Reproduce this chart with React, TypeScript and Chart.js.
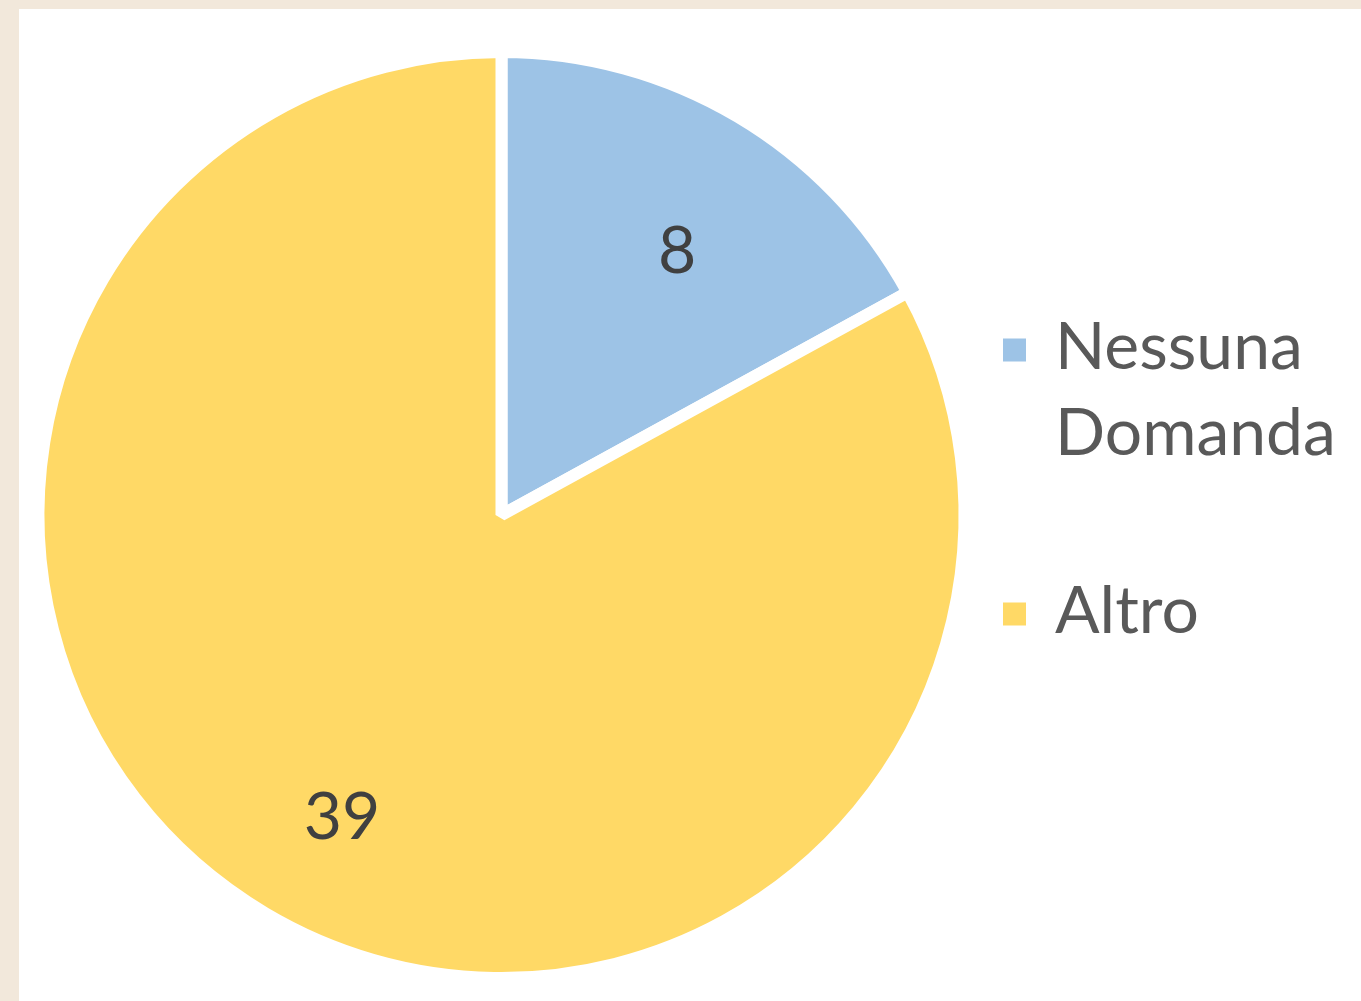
import React, { useEffect, useRef } from "react";
import { Chart, registerables } from "chart.js";

Chart.register(...registerables);

const categories = ["Nessuna Domanda", "Altro"];
const values = [8, 39];
const sliceColors = ["#9DC3E6", "#FFD966"];

const FONT = "Lato, 'Open Sans', sans-serif";
const TEXT_COLOR = "#595959";
const LABEL_COLOR = "#404040";

const dataLabelPlugin = {
  id: "sliceLabels",
  afterDatasetsDraw(chart: any) {
    const ctx = chart.ctx;
    const meta = chart.getDatasetMeta(0);
    const ds = chart.data.datasets[0];
    ctx.save();
    ctx.font = `66px ${FONT}`;
    ctx.fillStyle = LABEL_COLOR;
    ctx.textAlign = "center";
    ctx.textBaseline = "middle";
    meta.data.forEach((arc: any, i: number) => {
      const p = arc.getProps(["x", "y", "startAngle", "endAngle", "outerRadius"], true);
      const mid = (p.startAngle + p.endAngle) / 2;
      const r = p.outerRadius * 0.71;
      ctx.fillText(String(ds.data[i]), p.x + Math.cos(mid) * r + 8, p.y + Math.sin(mid) * r + 20);
    });
    ctx.restore();
  },
};

const legendPlugin = {
  id: "sideLegend",
  afterDraw(chart: any) {
    const ctx = chart.ctx;
    const labels: string[] = chart.data.labels;
    const colors: string[] = chart.data.datasets[0].backgroundColor;
    const fontSize = 66;
    const lineHeight = 86;
    const itemGap = 92;
    const maxWidth = 300;
    const markerX = 984;
    const textX = 1036;
    const markerSize = 23;
    ctx.save();
    ctx.font = `${fontSize}px ${FONT}`;
    ctx.textAlign = "left";
    ctx.textBaseline = "alphabetic";
    const items = labels.map((lab) => {
      const words = lab.split(" ");
      const lines: string[] = [];
      let cur = "";
      words.forEach((w) => {
        const test = cur ? cur + " " + w : w;
        if (cur && ctx.measureText(test).width > maxWidth) {
          lines.push(cur);
          cur = w;
        } else cur = test;
      });
      if (cur) lines.push(cur);
      return lines;
    });
    let baseline = 360;
    items.forEach((lines, i) => {
      ctx.fillStyle = colors[i];
      ctx.fillRect(markerX, baseline - 19 - markerSize / 2, markerSize, markerSize);
      ctx.fillStyle = TEXT_COLOR;
      lines.forEach((ln, j) => {
        ctx.fillText(ln, textX, baseline + j * lineHeight);
      });
      baseline += lines.length * lineHeight + itemGap;
    });
    ctx.restore();
  },
};

export default function App() {
  const canvasRef = useRef<HTMLCanvasElement>(null);

  useEffect(() => {
    const canvas = canvasRef.current;
    if (!canvas) return;
    const chart = new Chart(canvas, {
      type: "pie",
      data: {
        labels: categories,
        datasets: [
          {
            data: values,
            backgroundColor: sliceColors,
            borderColor: "#FFFFFF",
            borderWidth: 12,
            hoverOffset: 0,
          },
        ],
      },
      options: {
        responsive: false,
        animation: false,
        radius: 463,
        layout: { padding: { left: 0, right: 377, top: 20, bottom: 0 } },
        plugins: {
          legend: { display: false },
          tooltip: { enabled: false },
        },
      } as any,
      plugins: [dataLabelPlugin, legendPlugin],
    });
    return () => chart.destroy();
  }, []);

  return (
    <div
      style={{
        position: "fixed",
        left: 0,
        top: 0,
        width: 1361,
        height: 1001,
        background: "#F2E8DB",
        overflow: "hidden",
      }}
    >
      <div
        style={{
          position: "absolute",
          left: 19,
          top: 9,
          width: 1342,
          height: 992,
          background: "#FFFFFF",
        }}
      >
        <canvas ref={canvasRef} width={1342} height={992} style={{ display: "block" }} />
      </div>
    </div>
  );
}
